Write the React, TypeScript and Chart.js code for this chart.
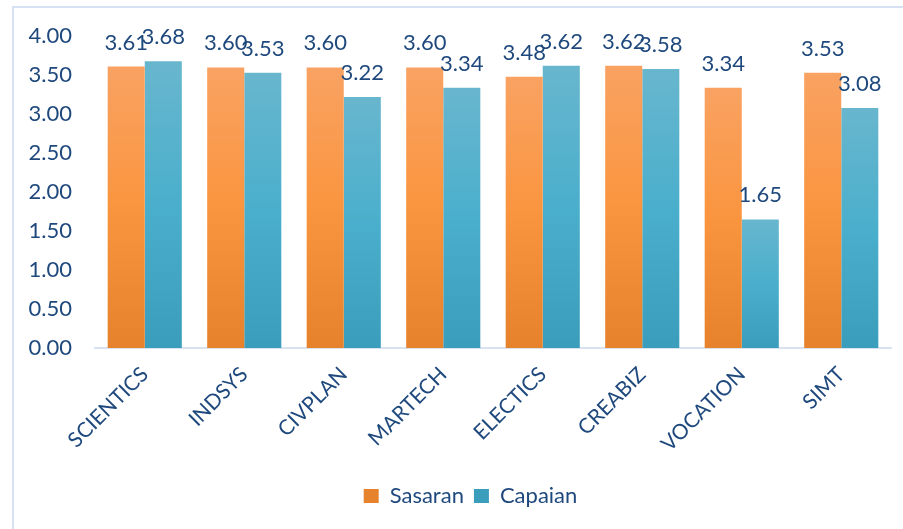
import React, { useEffect, useRef } from "react";
import { Chart, registerables } from "chart.js";

Chart.register(...registerables);

const categories = ["SCIENTICS", "INDSYS", "CIVPLAN", "MARTECH", "ELECTICS", "CREABIZ", "VOCATION", "SIMT"];
const sasaran = [3.61, 3.6, 3.6, 3.6, 3.48, 3.62, 3.34, 3.53];
const capaian = [3.68, 3.53, 3.22, 3.34, 3.62, 3.58, 1.65, 3.08];
const yTicks = [0, 0.5, 1, 1.5, 2, 2.5, 3, 3.5, 4];

const TEXT = "#1F497D";
const FONT = "Lato";

const orangeStops = ["#F9A262", "#FA953F", "#E5822B"];
const tealStops = ["#68B6CE", "#4AAFCC", "#3A9DBB"];

function gradientFor(stops: string[]) {
  return (ctx: any) => {
    const chart = ctx.chart;
    if (!chart.chartArea || ctx.type !== "data" || typeof ctx.raw !== "number") return stops[1];
    const y = chart.scales.y;
    const top = y.getPixelForValue(ctx.raw);
    const bottom = y.getPixelForValue(0);
    if (!isFinite(top) || !isFinite(bottom) || top === bottom) return stops[1];
    const g = chart.ctx.createLinearGradient(0, top, 0, bottom);
    g.addColorStop(0, stops[0]);
    g.addColorStop(0.5, stops[1]);
    g.addColorStop(1, stops[2]);
    return g;
  };
}

const valueLabels = {
  id: "valueLabels",
  afterDatasetsDraw(chart: any) {
    const c = chart.ctx;
    c.save();
    c.fillStyle = TEXT;
    c.font = `22px ${FONT}`;
    c.textAlign = "center";
    c.textBaseline = "alphabetic";
    chart.data.datasets.forEach((ds: any, di: number) => {
      const meta = chart.getDatasetMeta(di);
      meta.data.forEach((el: any, i: number) => {
        c.fillText(Number(ds.data[i]).toFixed(2), el.x, el.y - 17);
      });
    });
    c.restore();
  },
};

const legendShift = {
  id: "legendShift",
  afterLayout(chart: any) {
    if (chart.legend) chart.legend.left += 50;
  },
};

export default function App() {
  const ref = useRef<HTMLCanvasElement>(null);
  useEffect(() => {
    if (!ref.current) return;
    const chart = new Chart(ref.current, {
      type: "bar",
      data: {
        labels: categories,
        datasets: [
          { label: "Sasaran", data: sasaran, backgroundColor: gradientFor(orangeStops) as any, borderWidth: 0 },
          { label: "Capaian", data: capaian, backgroundColor: gradientFor(tealStops) as any, borderWidth: 0 },
        ],
      },
      options: {
        responsive: false,
        animation: false,
        layout: { padding: { left: 0, top: 36, right: 12, bottom: 12 } },
        datasets: { bar: { categoryPercentage: 0.745, barPercentage: 1 } },
        plugins: {
          tooltip: { enabled: false },
          legend: {
            position: "bottom",
            labels: {
              color: TEXT,
              font: { family: FONT, size: 22 },
              boxWidth: 15,
              boxHeight: 14,
              padding: 10,
            },
          },
        },
        scales: {
          x: {
            grid: { display: false, drawTicks: false },
            border: { display: true, color: "#D9E2F0", width: 2 },
            ticks: {
              color: TEXT,
              font: { family: FONT, size: 21 },
              minRotation: 45,
              maxRotation: 45,
              padding: 14,
              autoSkip: false,
            },
            afterFit: (s: any) => {
              s.height = 127;
            },
          },
          y: {
            min: 0,
            max: 4,
            grid: { display: false, drawTicks: false },
            border: { display: false },
            afterBuildTicks: (s: any) => {
              s.ticks = yTicks.map((v) => ({ value: v }));
            },
            ticks: {
              color: TEXT,
              font: { family: FONT, size: 22 },
              padding: 23,
              callback: (v: any) => Number(v).toFixed(2),
            },
            afterFit: (s: any) => {
              s.width = 95;
            },
          },
        },
      },
      plugins: [valueLabels, legendShift],
    });
    return () => chart.destroy();
  }, []);

  return (
    <div style={{ position: "fixed", left: 0, top: 0, width: 903, height: 529, overflow: "hidden", background: "#fff" }}>
      <div
        style={{
          position: "absolute",
          left: 12,
          top: 6,
          width: 1000,
          height: 600,
          border: "2px solid #D6E2F3",
          boxSizing: "border-box",
        }}
      />
      <canvas ref={ref} width={903} height={529} style={{ position: "absolute", left: 0, top: 0, width: 903, height: 529 }} />
    </div>
  );
}
